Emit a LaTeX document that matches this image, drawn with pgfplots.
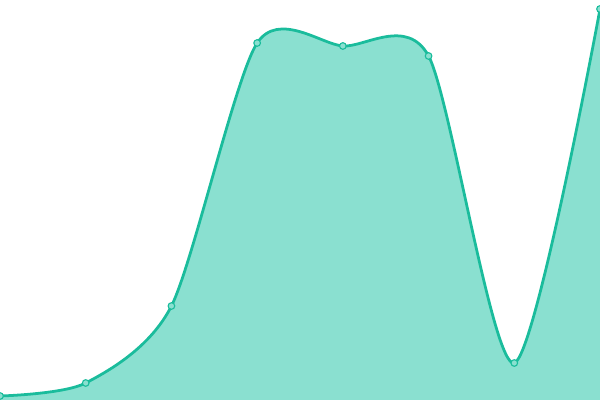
\documentclass[border=0pt]{standalone}
\usepackage{pgfplots}
\pgfplotsset{compat=1.18}
\definecolor{lineC}{HTML}{1ABC9C}
\definecolor{fillC}{HTML}{8AE0D0}
\pgfplotstableread{
x y
0 4
1 17
2 94
3 357
4 354
5 344
6 37
7 391
}\datatab
\begin{document}
\begin{tikzpicture}
\begin{axis}[
    hide axis,
    scale only axis,
    width=6in, height=4in,
    xmin=0, xmax=7,
    ymin=0, ymax=400,
    clip marker paths=true,
]
\addplot[draw=none, fill=fillC, smooth, tension=0.45] table[x=x,y=y] {\datatab} \closedcycle;
\addplot[lineC, line width=2pt, smooth, tension=0.45, mark=*,
    mark size=2.4pt, mark options={fill=fillC, draw=lineC, line width=0.8pt}]
    table[x=x,y=y] {\datatab};
\end{axis}
\pgfresetboundingbox
\path (current axis.south west) rectangle (current axis.north east);
\end{tikzpicture}
\end{document}
